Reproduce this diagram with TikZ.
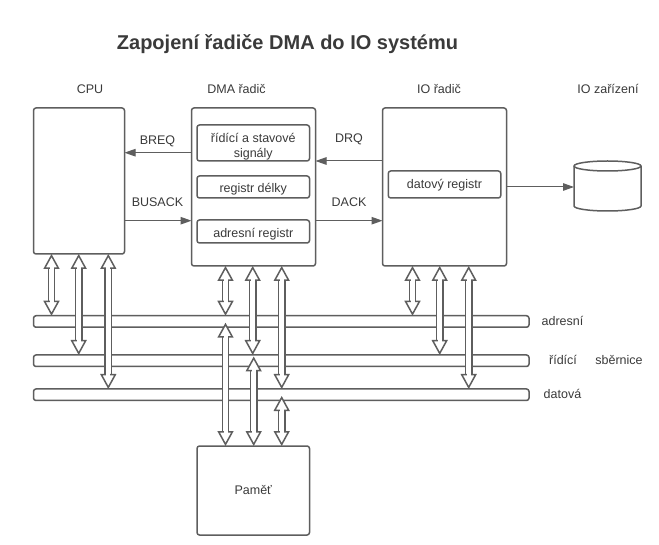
\documentclass[tikz,border=0pt]{standalone}
\usepackage{fontspec}
\setmainfont{Liberation Sans}
\usetikzlibrary{arrows.meta}
\definecolor{linegray}{HTML}{5E5E5E}
\definecolor{textgray}{HTML}{3A3A3A}
\tikzstyle{box}=[draw=linegray, line width=1.5pt, rounded corners=2.5pt, inner sep=0pt, outer sep=0pt, fill=white, text=textgray, align=center, font=\fontsize{12.5}{15}\selectfont]
\tikzstyle{label}=[text=textgray, font=\fontsize{12.5}{15}\selectfont]
\tikzstyle{signal}=[draw=linegray, line width=1pt, -{Triangle[width=7.5pt,length=11pt]}]
\tikzstyle{bus link}=[draw=linegray, line width=1.6pt, double=white, double distance=4.6pt, {Triangle[width=16pt,length=15pt,fill=white,line width=1.5pt]}-{Triangle[width=16pt,length=15pt,fill=white,line width=1.5pt]}]
\tikzstyle{bus gap}=[draw=white, line width=4pt, shorten <=9pt, shorten >=9pt]
\newcommand{\buslink}[2]{\path[bus link] #1 -- #2; \path[bus gap] #1 -- #2;}

\begin{document}
\begin{tikzpicture}[x=1pt, y=-1pt]
		\useasboundingbox[fill=white] (0,0) rectangle (659,545);
		\node[text=textgray, font=\bfseries\fontsize{20}{24}\selectfont] (title) at (287.5,44) {Zapojení řadiče DMA do IO systému};
		% sbernice
		\foreach \pos/\name in {{(281.25,321.5)/adr}, {(281.25,360.75)/ctl}, {(281.25,394.75)/dat}}
			\node[box, minimum width=495.5pt, minimum height=11.5pt] (\name) at \pos {};
		% bloky
		\foreach \pos/\name/\wid/\hei/\txt in {{(79,181)/cpu/91/146/}, {(253.5,187)/dma/124/158/}, {(444.5,187)/io/124/158/}, {(253.25,490.5)/pamet/112.5/89/Paměť}}
			\node[box, minimum width=\wid pt, minimum height=\hei pt] (\name) at \pos {\txt};
		% registry
		\foreach \pos/\name/\hei/\ris/\txt in {{(253.25,143)/ridici/36/16/řídící a stavové\\signály}, {(253.25,187)/delka/22/13/registr délky}, {(253.25,231.5)/adresa/23/14.6/adresní registr}, {(444.5,184.5)/datreg/27/11.5/datový registr}}
			\node[box, minimum width=112.5pt, minimum height=\hei pt] (\name) at \pos {\rule{0pt}{\ris pt}\txt};
		% disk
		\node[inner sep=0pt, outer sep=0pt, minimum width=67pt, minimum height=50pt] (disk) at (607.5,186) {};
		\draw[draw=linegray, line width=1.5pt, line join=round] ([yshift=-5]disk.north west) arc[start angle=180, end angle=0, x radius=33.5pt, y radius=5pt] -- ([yshift=5]disk.south east) arc[start angle=0, end angle=-180, x radius=33.5pt, y radius=5pt] -- cycle;
		\draw[draw=linegray, line width=1.5pt] ([yshift=-5]disk.north west) arc[start angle=180, end angle=360, x radius=33.5pt, y radius=5pt];
		% popisky
		\foreach \pos/\name/\txt in {{(90,89)/lcpu/CPU}, {(236.5,89)/ldma/DMA řadič}, {(439,89)/lio/IO řadič}, {(608,89)/ldev/IO zařízení}, {(157.5,141)/lbreq/BREQ}, {(157.5,202)/lbusack/BUSACK}, {(349,139)/ldrq/DRQ}, {(349,202)/ldack/DACK}, {(562.5,320.5)/ladr/adresní}, {(563,360)/lctl/řídící}, {(619,360)/lbus/sběrnice}, {(562.5,394)/ldat/datová}}
			\node[label] (\name) at \pos {\txt};
		% signaly
		\path[signal] ([yshift=34.3]dma.west) -- ([yshift=34.3]cpu.east |- dma.west);
		\path[signal] ([yshift=26]io.west) -- ([yshift=26]dma.east);
		\path[signal] ([yshift=-33.7]cpu.east |- dma.west) -- ([yshift=-33.7]dma.west);
		\path[signal] ([yshift=-33.7]dma.east) -- ([yshift=-33.7]io.west);
		\path[signal] (io.east) -- (disk.west |- io.east);
		% obousmerne sipky
		\foreach \source/\dest/\shift in {cpu/adr/-27.5, cpu/ctl/-0.3, cpu/dat/29.3, dma/adr/-28, dma/ctl/-0.8, dma/dat/28.2, io/adr/-32, io/ctl/-4.8, io/dat/24.2}
			{\buslink{([xshift=\shift]\source.south)}{([xshift=\shift]\source.south |- \dest.north)}}
		\foreach \dest/\shift/\gap in {adr/-27.75/7, ctl/0.45/1.5, dat/28.45/7}
			{\buslink{([xshift=\shift]pamet.north)}{([xshift=\shift,yshift=-\gap]pamet.north |- \dest.north)}}
	\end{tikzpicture}
\end{document}
